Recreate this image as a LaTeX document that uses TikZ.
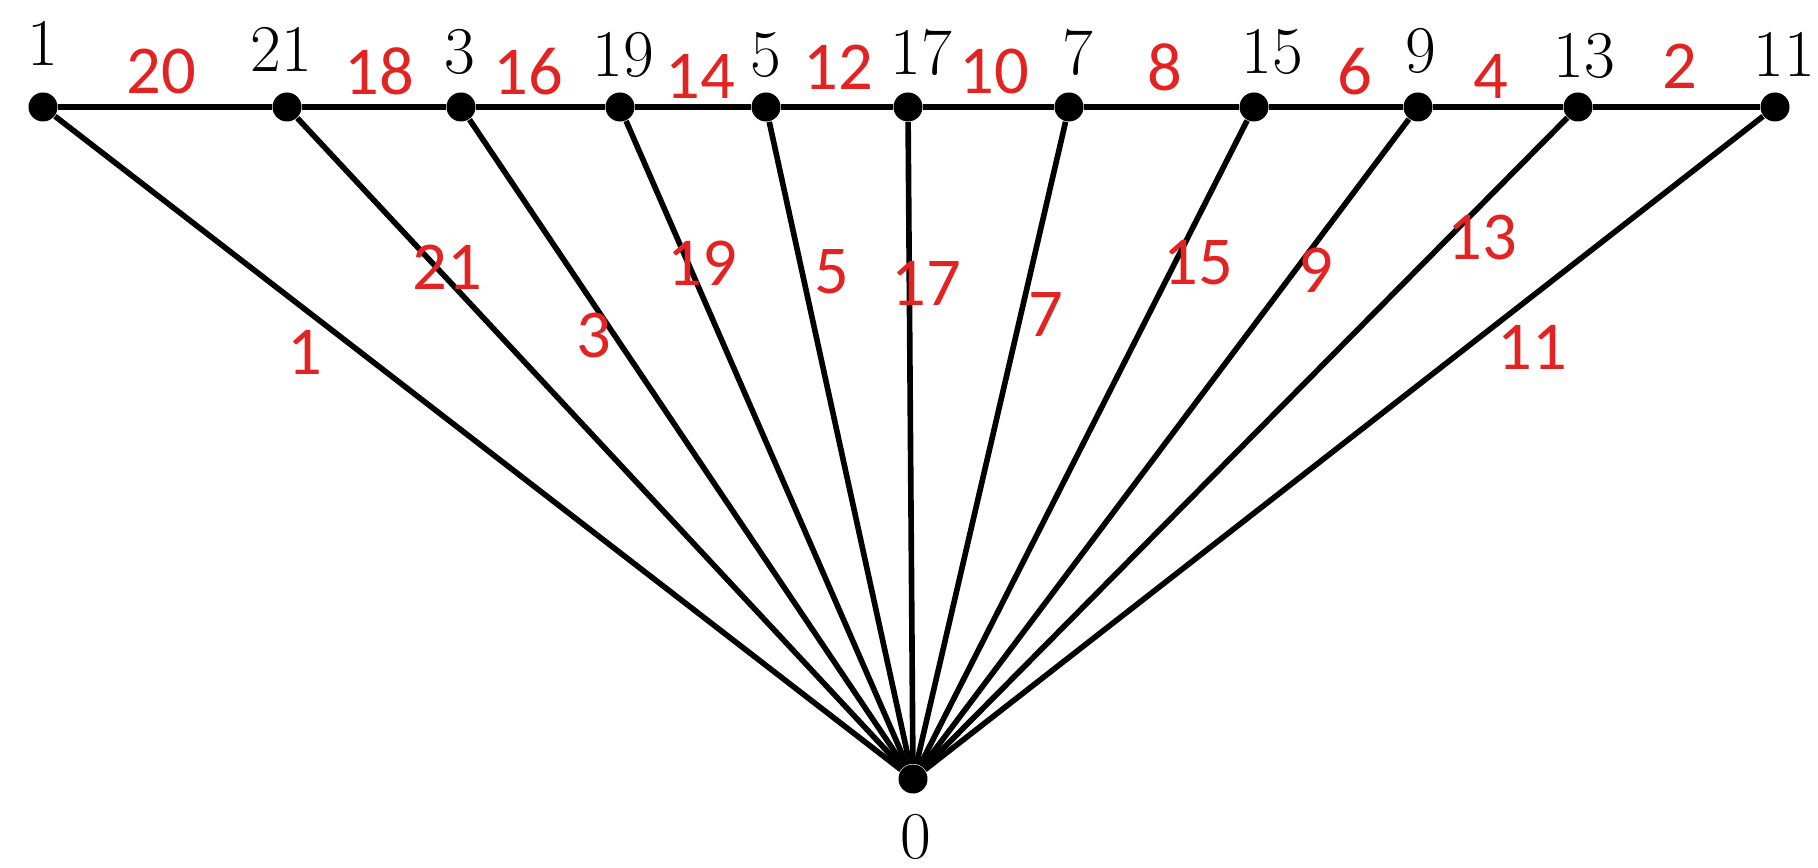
\documentclass[tikz,border=0pt]{standalone}
\usepackage{fontspec}
\newfontfamily\redfont{Carlito}
\usetikzlibrary{positioning}
\definecolor{labelred}{HTML}{E32322}

\begin{document}
\begin{tikzpicture}[
  x=0.01cm, y=-0.01cm,
  vtx/.style={circle, fill=black, inner sep=0pt, minimum size=2.9mm},
  vlab/.style={font=\fontsize{19}{19}\selectfont, inner sep=0pt},
  elab/.style={font=\redfont\fontsize{19.5}{19.5}\selectfont, text=labelred, inner sep=0pt},
  link/.style={line width=1.6pt},
]
  \useasboundingbox (0,0) rectangle (1818,868);

  \node[vtx] (v1) at (43,107) {};
  \node[vtx] (v21) at (287,107) {};
  \node[vtx] (v3) at (461,107) {};
  \node[vtx] (v19) at (620,107) {};
  \node[vtx] (v5) at (766,107) {};
  \node[vtx] (v17) at (908,107) {};
  \node[vtx] (v7) at (1069,107) {};
  \node[vtx] (v15) at (1254,107) {};
  \node[vtx] (v9) at (1418,107) {};
  \node[vtx] (v13) at (1578,107) {};
  \node[vtx] (v11) at (1775,107) {};
  \node[vtx] (v0) at (913,779) {};

  \node[vlab] (t1) at (43,43) {1};
  \node[vlab] (t21) at (281,49) {21};
  \node[vlab] (t3) at (460,52) {3};
  \node[vlab] (t19) at (623,55) {19};
  \node[vlab] (t5) at (766,55) {5};
  \node[vlab] (t17) at (921,52) {17};
  \node[vlab] (t7) at (1078,52) {7};
  \node[vlab] (t15) at (1272,52) {15};
  \node[vlab] (t9) at (1421,51) {9};
  \node[vlab] (t13) at (1584,56) {13};
  \node[vlab] (t11) at (1784,54) {11};
  \node[vlab] (t0) at (916,837) {0};

  \draw[link] (v1) -- (v21) -- (v3) -- (v19) -- (v5) -- (v17) -- (v7) -- (v15) -- (v9) -- (v13) -- (v11);
  \draw[link] (v0) -- (v1);
  \draw[link] (v0) -- (v21);
  \draw[link] (v0) -- (v3);
  \draw[link] (v0) -- (v19);
  \draw[link] (v0) -- (v5);
  \draw[link] (v0) -- (v17);
  \draw[link] (v0) -- (v7);
  \draw[link] (v0) -- (v15);
  \draw[link] (v0) -- (v9);
  \draw[link] (v0) -- (v13);
  \draw[link] (v0) -- (v11);

  \node[elab] (e20) at (161,72) {20};
  \node[elab] (e18) at (379,71) {18};
  \node[elab] (e16) at (528,72) {16};
  \node[elab] (e14) at (700,76) {14};
  \node[elab] (e12) at (838,67) {12};
  \node[elab] (e10) at (994,72) {10};
  \node[elab] (e8) at (1165,67) {8};
  \node[elab] (e6) at (1355,72) {6};
  \node[elab] (e4) at (1491,77) {4};
  \node[elab] (e2) at (1680,66) {2};

  \node[elab] (s1) at (305,352) {1};
  \node[elab] (s21) at (447,267) {21};
  \node[elab] (s3) at (594,335) {3};
  \node[elab] (s19) at (702,263) {19};
  \node[elab] (s5) at (832,272) {5};
  \node[elab] (s17) at (926,283) {17};
  \node[elab] (s7) at (1046,315) {7};
  \node[elab] (s15) at (1198,263) {15};
  \node[elab] (s9) at (1316,270) {9};
  \node[elab] (s13) at (1482,238) {13};
  \node[elab] (s11) at (1532,347) {11};
\end{tikzpicture}
\end{document}
